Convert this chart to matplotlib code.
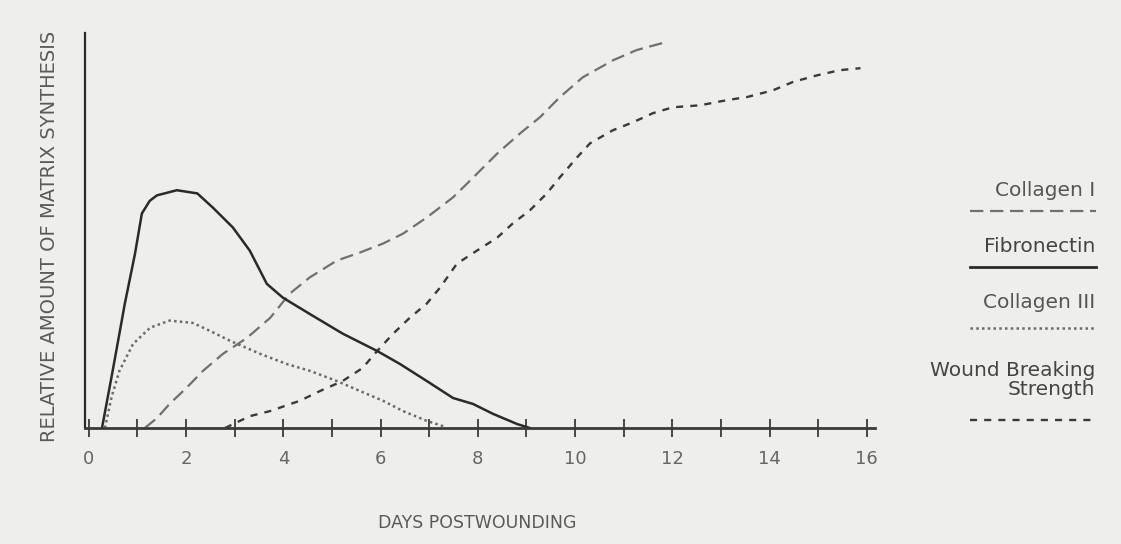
import matplotlib.pyplot as plt
from matplotlib.lines import Line2D

# days postwounding vs relative amount (0-100)
fib_days = [0.27, 0.49, 0.74, 0.95, 1.09, 1.25, 1.40, 1.81, 2.23, 2.55, 2.96, 3.31,
            3.66, 3.99, 4.54, 5.22, 5.93, 6.40, 6.95, 7.49, 7.90, 8.31, 8.81, 9.07]
fib_vals = [0, 14.5, 31.5, 44.2, 54.3, 57.5, 58.9, 60.2, 59.4, 55.8, 50.8, 44.9,
            36.5, 33.0, 28.9, 23.9, 19.5, 16.2, 11.9, 7.6, 6.1, 3.6, 1.0, 0]

col3_days = [0.33, 0.47, 0.63, 0.91, 1.26, 1.66, 2.14, 2.49, 2.90, 3.52, 4.07, 4.54,
             5.10, 5.57, 6.05, 6.46, 6.95, 7.33]
col3_vals = [0, 8, 14.5, 21.3, 25.4, 27.2, 26.6, 24.6, 22.1, 18.8, 16.2, 14.5,
             11.9, 9.4, 6.9, 4.3, 1.8, 0.3]

col1_days = [1.15, 1.40, 1.66, 2.01, 2.35, 2.76, 3.25, 3.73, 4.13, 4.54, 5.10, 5.57,
             6.05, 6.46, 6.95, 7.49, 7.78, 8.40, 8.87, 9.28, 9.69, 10.16, 10.78,
             11.27, 11.81]
col1_vals = [0, 2.5, 6.1, 10.2, 14.5, 18.8, 22.8, 27.9, 34.0, 38.1, 42.4, 44.4,
             46.7, 49.2, 53.3, 58.4, 61.9, 69.5, 74.6, 78.7, 83.8, 88.8, 93.1,
             95.7, 97.5]

wound_days = [2.80, 3.31, 3.73, 4.34, 4.76, 5.22, 5.63, 5.93, 6.26, 6.60, 6.95, 7.22,
              7.57, 7.98, 8.40, 8.72, 9.07, 9.42, 9.69, 10.04, 10.31, 10.78, 11.19,
              11.60, 12.01, 12.57, 13.12, 13.54, 14.07, 14.48, 14.98, 15.45, 15.87]
wound_vals = [0, 3.0, 4.3, 6.9, 9.4, 11.9, 15.2, 19.5, 23.9, 27.9, 31.5, 35.5,
              41.6, 44.9, 48.2, 51.8, 55.1, 59.4, 63.5, 68.5, 72.1, 75.4, 77.4,
              79.7, 81.2, 81.7, 83.0, 83.8, 85.5, 87.6, 89.3, 90.6, 91.1]

ticks = list(range(0, 17))
tick_labels = [str(t) if t % 2 == 0 else "" for t in ticks]

plt.rcParams['font.family'] = ['DejaVu Sans']

fig = plt.figure(figsize=(11.21, 5.44), dpi=100, facecolor='#eeeeec')
ax = fig.add_axes([0.0758, 0.2132, 0.7048, 0.7261])
ax.set_facecolor('none')

ax.plot(col1_days, col1_vals, color='#707070', lw=1.6, dashes=(6, 3))
ax.plot(wound_days, wound_vals, color='#3a3a3a', lw=1.7, dashes=(3, 3))
ax.plot(col3_days, col3_vals, color='#6a6a6a', lw=1.8, dashes=(1, 1.3))
ax.plot(fib_days, fib_vals, color='#2a2a2a', lw=1.8)

ax.set_xlim(-0.08, 16.17)
ax.set_ylim(0, 100)
for s in ['top', 'right']:
    ax.spines[s].set_visible(False)
ax.spines['bottom'].set_linewidth(2.0)
ax.spines['bottom'].set_color('#3a3a3a')
ax.spines['left'].set_linewidth(1.6)
ax.spines['left'].set_color('#2a2a2a')
ax.set_yticks([])
ax.set_xticks(ticks)
ax.set_xticklabels(tick_labels, fontsize=13, color='#666666')
ax.tick_params(axis='x', direction='inout', length=13, width=1.3, color='#3a3a3a', pad=9)

fig.text(0.0446, 0.566, "RELATIVE AMOUNT OF MATRIX SYNTHESIS", rotation=90,
         ha='center', va='center', fontsize=14, color='#5a5a5a')
fig.text(0.426, 0.038, "DAYS POSTWOUNDING", ha='center', va='center',
         fontsize=12.5, color='#5a5a5a')

# legend on the right
lx = 1095 / 1121
fig.text(lx, 1 - 190 / 544, "Collagen I", ha='right', va='center', fontsize=14.5, color='#555555')
fig.text(lx, 1 - 247 / 544, "Fibronectin", ha='right', va='center', fontsize=14.5, color='#444444')
fig.text(lx, 1 - 303 / 544, "Collagen III", ha='right', va='center', fontsize=14.5, color='#555555')
fig.text(lx, 1 - 380 / 544, "Wound Breaking\nStrength", ha='right', va='center',
         fontsize=14.5, color='#444444', linespacing=1.0, multialignment='right')

x0, x1 = 970 / 1121, 1096 / 1121
fig.add_artist(Line2D([x0, x1], [1 - 211 / 544] * 2, color='#707070', lw=1.6, dashes=(6, 3)))
fig.add_artist(Line2D([x0, x1], [1 - 267 / 544] * 2, color='#2a2a2a', lw=2.0))
fig.add_artist(Line2D([x0, x1], [1 - 328 / 544] * 2, color='#6a6a6a', lw=1.8, dashes=(1, 1.3)))
fig.add_artist(Line2D([x0, x1], [1 - 420 / 544] * 2, color='#3a3a3a', lw=1.7, dashes=(3, 3)))

fig.savefig("out.png", dpi=100, facecolor=fig.get_facecolor())
